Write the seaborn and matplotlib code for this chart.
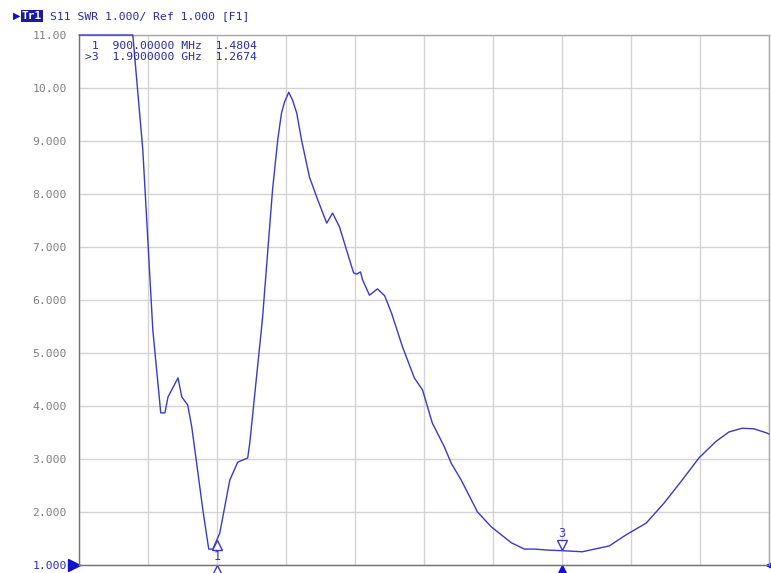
import numpy as np
import pandas as pd
import matplotlib
matplotlib.use("Agg")
import matplotlib.pyplot as plt
import matplotlib.transforms as mtrans
import seaborn as sns

# trace (MHz, SWR); values above 11 shown clipped at top
freq_mhz = [500, 656, 685, 714, 737, 749, 758, 787, 798, 815, 827, 841, 859, 876, 888,
            900, 908, 937, 960, 989, 995, 1032, 1061, 1076, 1087, 1096, 1108, 1119, 1131,
            1145, 1168, 1192, 1218, 1235, 1255, 1278, 1296, 1305, 1316, 1322, 1342, 1365,
            1386, 1406, 1438, 1472, 1496, 1524, 1559, 1579, 1608, 1655, 1695, 1724, 1753,
            1791, 1820, 1863, 1900, 1959, 2037, 2086, 2144, 2196, 2248, 2297, 2346, 2384,
            2422, 2456, 2494, 2500]
swr = [11.0, 11.0, 8.83, 5.43, 3.87, 3.87, 4.17, 4.53, 4.17, 4.02, 3.60, 2.92, 2.04, 1.30, 1.30,
       1.48, 1.60, 2.60, 2.94, 3.02, 3.30, 5.66, 8.08, 9.02, 9.53, 9.74, 9.92, 9.77, 9.53,
       9.02, 8.32, 7.89, 7.45, 7.64, 7.38, 6.89, 6.51, 6.49, 6.53, 6.38, 6.09, 6.21,
       6.08, 5.75, 5.11, 4.53, 4.30, 3.68, 3.23, 2.92, 2.60, 2.00, 1.72, 1.57, 1.42,
       1.30, 1.30, 1.28, 1.27, 1.25, 1.36, 1.57, 1.79, 2.17, 2.60, 3.02, 3.33, 3.51,
       3.58, 3.57, 3.49, 3.47]

marker_ids = ["1", "3"]
marker_freq = [900, 1900]
marker_val = [1.4804, 1.2674]
marker_lines = [" 1  900.00000 MHz  1.4804", ">3  1.9000000 GHz  1.2674"]

ytick_vals = [1, 2, 3, 4, 5, 6, 7, 8, 9, 10, 11]
ytick_labels = ["1.000", "2.000", "3.000", "4.000", "5.000", "6.000", "7.000",
                "8.000", "9.000", "10.00", "11.00"]
header = "S11 SWR 1.000/ Ref 1.000 [F1]"

df = pd.DataFrame({"freq": freq_mhz, "swr": swr})

sns.set_style("white")
plt.rcParams["font.family"] = ["DejaVu Sans Mono"]

trace_col = "#3a3ac4"
text_col = "#2a2aa0"
grid_col = "#d3d3d3"

fig = plt.figure(figsize=(7.71, 5.73), dpi=100)
ax = fig.add_axes([79 / 771, 1 - 565 / 573, 690 / 771, 530 / 573])

sns.lineplot(data=df, x="freq", y="swr", ax=ax, color=trace_col, linewidth=1.0, zorder=3)
ax.lines[0].set_clip_on(False)

ax.set_xlim(500, 2500)
ax.set_ylim(1, 11)
ax.set_xticks(np.arange(500, 2501, 200))
ax.set_xticklabels([])
ax.set_yticks(ytick_vals)
ax.set_yticklabels(ytick_labels, fontsize=8.2, color="#808080")
ax.get_yticklabels()[0].set_color("#2a2ac0")
ax.tick_params(length=0, pad=8.6)
ax.set_xlabel("")
ax.set_ylabel("")
ax.grid(True, color=grid_col, linewidth=1.0)
for side in ["top", "right"]:
    ax.spines[side].set_color("#a8a8a8")
for side in ["left", "bottom"]:
    ax.spines[side].set_color("#707070")
for s in ax.spines.values():
    s.set_linewidth(1.0)

# marker readout
for i, line in enumerate(marker_lines):
    ax.text(0.009, 0.988 - i * 0.021, line, transform=ax.transAxes, fontsize=8.2,
            color=text_col, va="top", ha="left")

# markers on the trace
down5 = mtrans.offset_copy(ax.transData, fig, y=-5, units="dots")
up6 = mtrans.offset_copy(ax.transData, fig, y=6, units="dots")
ax.plot([marker_freq[0]], [marker_val[0]], marker="^", markersize=7, mfc="white",
        mec=trace_col, mew=1.0, transform=down5, clip_on=False, zorder=4)
ax.plot([marker_freq[1]], [marker_val[1]], marker="v", markersize=7, mfc="white",
        mec=trace_col, mew=1.0, transform=up6, clip_on=False, zorder=4)
ax.text(marker_freq[0], marker_val[0], marker_ids[0], fontsize=8.5, color=trace_col,
        ha="center", va="top",
        transform=mtrans.offset_copy(ax.transData, fig, y=-10, units="dots"))
ax.text(marker_freq[1], marker_val[1], marker_ids[1], fontsize=8.5, color=trace_col,
        ha="center", va="bottom",
        transform=mtrans.offset_copy(ax.transData, fig, y=11, units="dots"))

# marker flags below the axis
xt = ax.get_xaxis_transform()
ax.plot([marker_freq[0]], [-0.012], marker="^", markersize=8, mfc="white",
        mec=trace_col, mew=1.0, transform=xt, clip_on=False)
ax.plot([marker_freq[1]], [-0.012], marker="^", markersize=8, mfc="#1010d0",
        mec="#1010d0", transform=xt, clip_on=False)
ax.plot([2500], [-0.0], marker="<", markersize=5, color="#1010d0", transform=xt, clip_on=False)

# reference level pointer
yt = ax.get_yaxis_transform()
ax.plot([-0.007], [1.0], marker=">", markersize=8, color="#1010d0", transform=yt, clip_on=False)

# header line
fig.text(13 / 771, 1 - 16 / 573, "\u25B6", fontsize=7, color="#1010d0", va="center",
         family=["DejaVu Sans"])
fig.text(22 / 771, 1 - 16 / 573, "Tr1", fontsize=8, color="white", va="center",
         fontweight="bold",
         bbox=dict(boxstyle="square,pad=0.1", facecolor="#1a1a9a", edgecolor="none"))
fig.text(50 / 771, 1 - 16 / 573, header, fontsize=8.2, color=text_col, va="center")

fig.savefig("out.png", dpi=100, facecolor="white")
